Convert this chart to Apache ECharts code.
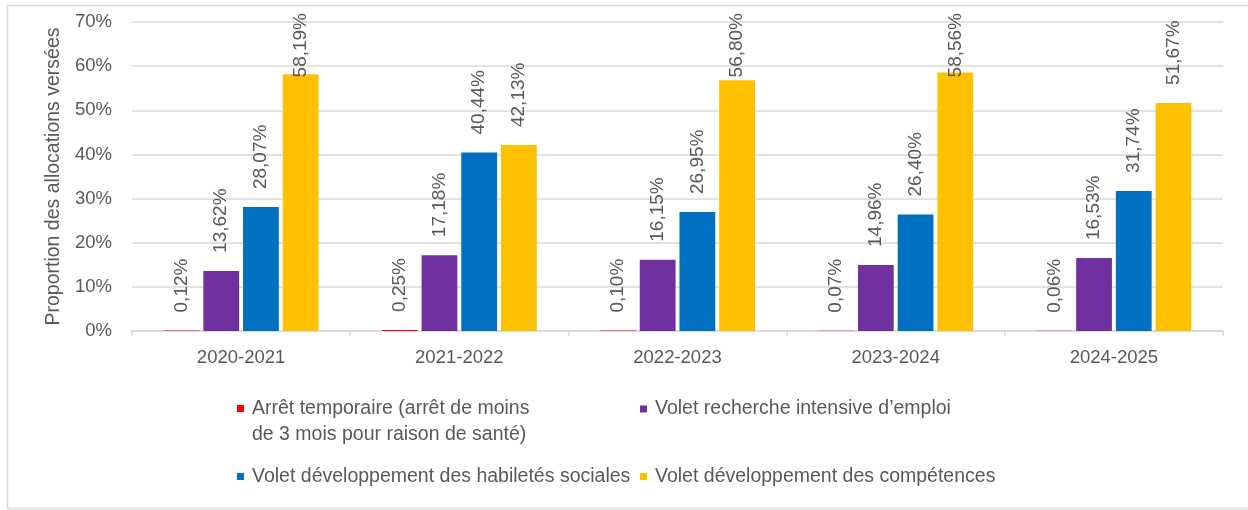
<!DOCTYPE html>
<html>
<head>
<meta charset="utf-8">
<script src="https://cdn.jsdelivr.net/npm/echarts@6/dist/echarts.min.js"></script>
<style>
  html, body { margin: 0; padding: 0; background: #fff; }
  #chart { width: 1248px; height: 510px; }
</style>
</head>
<body>
<div id="chart"></div>
<script>
const years = ['2020-2021', '2021-2022', '2022-2023', '2023-2024', '2024-2025'];
const arretTemporaire = [0.12, 0.25, 0.10, 0.07, 0.06];
const rechercheEmploi = [13.62, 17.18, 16.15, 14.96, 16.53];
const habiletesSociales = [28.07, 40.44, 26.95, 26.40, 31.74];
const competences = [58.19, 42.13, 56.80, 58.56, 51.67];
const yTicks = [0, 10, 20, 30, 40, 50, 60, 70];

const names = [
    'Arrêt temporaire (arrêt de moins de 3 mois pour raison de santé)',
    'Volet recherche intensive d\u2019emploi',
    'Volet développement des habiletés sociales',
    'Volet développement des compétences'
];
const colors = ['#ff0000', '#7030a0', '#0070c0', '#ffc000'];
const font = 'Liberation Sans';
const grey = '#595959';

const fmt = v => v.toFixed(2).replace('.', ',') + '%';

const makeSeries = (name, data, color) => ({
    name: name,
    type: 'bar',
    data: data,
    itemStyle: { color: color },
    barGap: '11%',
    barCategoryGap: '29%',
    label: {
        show: true,
        position: 'top',
        rotate: 90,
        align: 'left',
        verticalAlign: 'middle',
        distance: 18,
        color: grey,
        fontFamily: font,
        fontSize: 19,
        formatter: p => fmt(p.value)
    },
    // keep labels inside the top of the chart, like the original
    labelLayout: p => {
        if (p.labelRect.y < 13) {
            return { dx: p.labelRect.y - 13 };
        }
    }
});

const legendBase = {
    orient: 'horizontal',
    icon: 'rect',
    itemWidth: 7,
    itemHeight: 7,
    textStyle: { color: grey, fontFamily: font, fontSize: 19.5, padding: [0, 0, 0, 3] }
};

const chart = echarts.init(document.getElementById('chart'));

chart.setOption({
    animation: false,
    graphic: [{
        type: 'rect',
        shape: { x: 7.5, y: 5.5, width: 1250, height: 503 },
        style: { fill: 'none', stroke: '#d9d9d9', lineWidth: 1.5 },
        silent: true
    }],
    legend: [
        Object.assign({}, legendBase, {
            data: [names[0]],
            left: 232, top: 390.5,
            icon: 'path://M0,0h7v7h-7zM0,33',
            itemHeight: 33,
            formatter: () => 'Arrêt temporaire (arrêt de moins\nde 3 mois pour raison de santé)',
            textStyle: Object.assign({}, legendBase.textStyle, { lineHeight: 26 })
        }),
        Object.assign({}, legendBase, { data: [names[1]], left: 635, top: 394 }),
        Object.assign({}, legendBase, { data: [names[2]], left: 232, top: 461.5 }),
        Object.assign({}, legendBase, { data: [names[3]], left: 635, top: 461.5 })
    ],
    grid: { left: 132, right: 25, top: 22, bottom: 179 },
    xAxis: {
        type: 'category',
        data: years,
        axisLine: { lineStyle: { color: '#d9d9d9', width: 1.5 } },
        axisTick: { show: true, length: 5, lineStyle: { color: '#d9d9d9', width: 1.5 } },
        axisLabel: { color: grey, fontFamily: font, fontSize: 18.5, margin: 17 }
    },
    yAxis: {
        type: 'value',
        min: 0,
        max: 70,
        interval: 10,
        name: 'Proportion des allocations versées',
        nameLocation: 'middle',
        nameGap: 64,
        nameTextStyle: { color: grey, fontFamily: font, fontSize: 19.5 },
        axisLabel: {
            color: grey, fontFamily: font, fontSize: 18.5, margin: 20,
            formatter: v => yTicks.includes(v) ? v + '%' : ''
        },
        splitLine: { lineStyle: { color: '#d9d9d9', width: 1.5 } }
    },
    series: [
        makeSeries(names[0], arretTemporaire, colors[0]),
        makeSeries(names[1], rechercheEmploi, colors[1]),
        makeSeries(names[2], habiletesSociales, colors[2]),
        makeSeries(names[3], competences, colors[3])
    ]
});
</script>
</body>
</html>
